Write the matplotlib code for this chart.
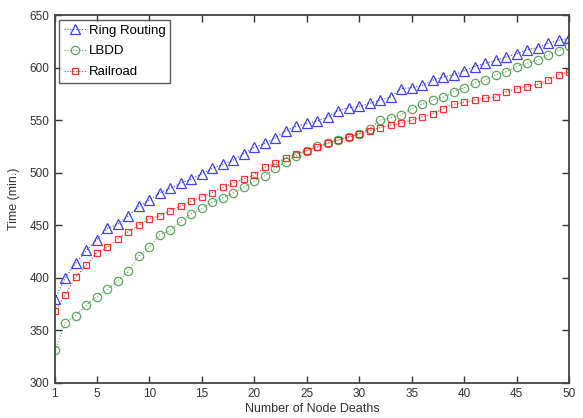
import numpy as np
import matplotlib
matplotlib.use('Agg')
import matplotlib.pyplot as plt

plt.rcParams['font.family'] = ['Liberation Sans', 'DejaVu Sans']

# node deaths on the x axis
deaths = list(range(1, 51))

ring_routing = [380, 400, 414, 426, 436, 447, 451, 459, 468, 474,
                481, 485, 490, 494, 499, 504, 508, 512, 518, 524,
                528, 533, 540, 544, 547, 549, 553, 559, 562, 563,
                566, 569, 572, 580, 581, 583, 588, 591, 593, 597,
                601, 604, 607, 610, 613, 617, 619, 623, 626, 628]

lbdd = [331, 357, 364, 374, 382, 389, 397, 406, 421, 429,
        441, 445, 454, 461, 466, 472, 476, 481, 486, 492,
        497, 504, 510, 516, 521, 525, 528, 531, 534, 537,
        542, 550, 552, 555, 561, 565, 569, 572, 577, 581,
        585, 588, 593, 596, 601, 604, 607, 612, 616, 621]

railroad = [368, 384, 401, 412, 424, 429, 437, 444, 450, 456,
            459, 464, 468, 473, 477, 481, 486, 490, 494, 498,
            505, 509, 514, 518, 521, 524, 528, 531, 534, 537,
            540, 543, 545, 547, 550, 553, 556, 561, 565, 567,
            569, 571, 572, 577, 580, 582, 584, 588, 593, 596]

fig = plt.figure(figsize=(5.83, 4.18), dpi=100)
ax = fig.add_axes([0.094, 0.084, 0.882, 0.880])

ax.plot(deaths, ring_routing, linestyle=':', color='#0000ff', marker='^',
        markersize=6.5, markerfacecolor='none', markeredgewidth=0.9,
        linewidth=0.8, alpha=0.75, label='Ring Routing')
ax.plot(deaths, lbdd, linestyle=':', color='#2a8a2a', marker='o',
        markersize=6, markerfacecolor='none', markeredgewidth=0.9,
        linewidth=0.8, alpha=0.75, label='LBDD')
ax.plot(deaths, railroad, linestyle=':', color='#ff0000', marker='s',
        markersize=5, markerfacecolor='none', markeredgewidth=0.9,
        linewidth=0.8, alpha=0.8, label='Railroad')

ax.set_xlim(1, 50)
ax.set_ylim(300, 650)
ax.set_xticks([1, 5, 10, 15, 20, 25, 30, 35, 40, 45, 50])
ax.set_yticks(np.arange(300, 651, 50))
ax.tick_params(direction='in', top=True, right=True, length=5,
               width=1, labelsize=8.5, colors='#333333', pad=4)
for s in ax.spines.values():
    s.set_linewidth(1.3)
    s.set_color('#444444')

ax.set_xlabel('Number of Node Deaths', fontsize=9, labelpad=2, color='#333333')
ax.set_ylabel('Time (min.)', fontsize=9, labelpad=7, color='#333333')

leg = ax.legend(loc='upper left', fontsize=9.5, frameon=True, fancybox=False,
                edgecolor='#333333', handlelength=1.7, handletextpad=0.2,
                borderpad=0.35, labelspacing=0.65, borderaxespad=0.35)
leg.get_frame().set_linewidth(1.0)

fig.savefig('out.png', dpi=100)
